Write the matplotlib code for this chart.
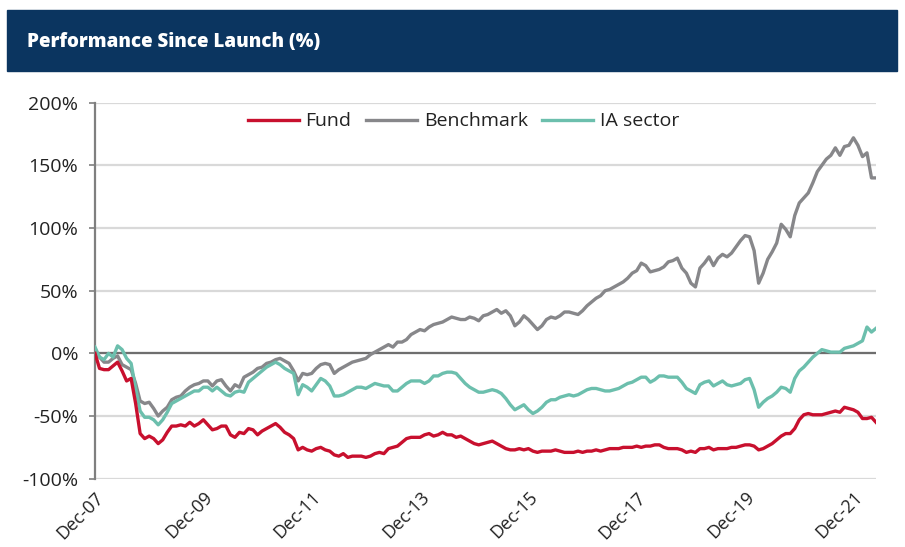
import matplotlib.pyplot as plt
from matplotlib.patches import Rectangle
import numpy as np

plt.rcParams['font.family'] = ['Open Sans', 'DejaVu Sans']

# monthly cumulative performance (%), Dec-07 .. May-22
fund = [0, -12, -13, -13, -10, -7, -14, -22, -20, -40,
        -64, -68, -66, -68, -72, -69, -63, -58, -58, -57,
        -58, -55, -58, -56, -53, -57, -61, -60, -58, -58,
        -65, -67, -63, -64, -60, -61, -65, -62, -60, -58,
        -56, -59, -63, -65, -68, -77, -75, -77, -78, -76,
        -75, -77, -78, -81, -82, -80, -83, -82, -82, -82,
        -83, -82, -80, -79, -80, -76, -75, -74, -71, -68,
        -67, -67, -67, -65, -64, -66, -65, -63, -65, -65,
        -67, -66, -68, -70, -72, -73, -72, -71, -70, -72,
        -74, -76, -77, -77, -76, -77, -76, -78, -79, -78,
        -78, -78, -77, -78, -79, -79, -79, -78, -79, -78,
        -78, -77, -78, -77, -76, -76, -76, -75, -75, -75,
        -74, -75, -74, -74, -73, -73, -75, -76, -76, -76,
        -77, -79, -78, -79, -76, -76, -75, -77, -76, -76,
        -76, -75, -75, -74, -73, -73, -74, -77, -76, -74,
        -72, -69, -66, -64, -64, -60, -53, -49, -48, -49,
        -49, -49, -48, -47, -46, -47, -43, -44, -45, -47,
        -52, -52, -51, -55]

benchmark = [2, -3, -7, -7, -4, -2, -9, -11, -13, -24,
             -38, -40, -39, -44, -50, -46, -43, -37, -35, -34,
             -30, -27, -25, -24, -22, -22, -26, -22, -21, -26,
             -30, -25, -27, -19, -17, -15, -12, -11, -8, -7,
             -5, -4, -6, -8, -14, -22, -16, -17, -16, -12,
             -9, -8, -9, -16, -13, -11, -9, -7, -6, -5,
             -4, -1, 1, 3, 5, 7, 5, 9, 9, 11,
             15, 17, 19, 18, 21, 23, 24, 25, 27, 29,
             28, 27, 27, 29, 28, 26, 30, 31, 33, 35,
             32, 34, 30, 22, 25, 30, 27, 23, 19, 22,
             27, 29, 28, 30, 33, 33, 32, 31, 34, 38,
             41, 44, 46, 50, 51, 53, 55, 57, 60, 64,
             66, 72, 70, 65, 66, 67, 69, 73, 74, 76,
             68, 64, 56, 53, 68, 72, 77, 70, 76, 79,
             77, 80, 85, 90, 94, 93, 82, 56, 64, 75,
             81, 88, 103, 99, 93, 110, 120, 124, 128, 136,
             145, 150, 155, 158, 164, 158, 165, 166, 172, 166,
             157, 160, 140, 140]

ia_sector = [5, -3, -5, 0, -3, 6, 3, -4, -8, -28,
             -46, -51, -51, -53, -57, -53, -47, -40, -38, -36,
             -34, -32, -30, -30, -27, -27, -30, -27, -30, -33,
             -34, -31, -30, -31, -23, -20, -17, -14, -11, -9,
             -7, -9, -12, -14, -16, -33, -25, -27, -30, -25,
             -20, -22, -26, -34, -34, -33, -31, -29, -27, -27,
             -28, -26, -24, -25, -26, -26, -30, -30, -27, -24,
             -22, -22, -22, -24, -22, -18, -18, -16, -15, -15,
             -16, -20, -24, -27, -29, -31, -31, -30, -29, -30,
             -32, -36, -41, -45, -43, -41, -45, -48, -46, -43,
             -39, -37, -37, -35, -34, -33, -34, -33, -31, -29,
             -28, -28, -29, -30, -30, -29, -28, -26, -24, -23,
             -21, -19, -19, -23, -21, -18, -18, -19, -19, -19,
             -23, -28, -30, -32, -25, -23, -22, -26, -24, -22,
             -25, -26, -25, -24, -21, -20, -29, -43, -39, -36,
             -34, -31, -27, -28, -31, -20, -14, -11, -7, -3,
             0, 3, 2, 1, 1, 1, 4, 5, 6, 8,
             10, 21, 17, 20]

tick_labels = ['Dec-07', 'Dec-09', 'Dec-11', 'Dec-13', 'Dec-15',
               'Dec-17', 'Dec-19', 'Dec-21']

x = np.arange(len(fund))

fig = plt.figure(figsize=(9.05, 5.47), dpi=100)

# title banner
fig.patches.append(Rectangle((7/905, 1-71/547), 890/905, 61/547,
                             transform=fig.transFigure, color='#0b3560', zorder=0))
fig.text(27/905, 1-42/547, 'Performance Since Launch (%)', color='white',
         fontsize=13.5, fontweight='heavy', va='center', ha='left')

ax = fig.add_axes([95/905, 1-478.7/547, 781/905, 376/547])

ax.plot(x, fund, color='#c8102e', lw=2.4, label='Fund', zorder=4, solid_joinstyle='round')
ax.plot(x, benchmark, color='#87878a', lw=2.4, label='Benchmark', zorder=3, solid_joinstyle='round')
ax.plot(x, ia_sector, color='#6cbfad', lw=2.4, label='IA sector', zorder=3, solid_joinstyle='round')

ax.axhline(0, color='#6e6e6e', lw=1.6, zorder=2)

ax.set_xlim(0, len(fund) - 1)
ax.set_ylim(-100, 200)
ax.set_yticks(range(-100, 201, 50))
ax.set_yticklabels([f'{v}%' for v in range(-100, 201, 50)])
ax.yaxis.grid(True, color='#d9d9d9', lw=1.6)
ax.set_axisbelow(True)

ax.set_xticks(np.arange(0, len(fund), 24))
ax.set_xticklabels(tick_labels, rotation=45, ha='right', rotation_mode='anchor')

for s in ['top', 'right', 'bottom']:
    ax.spines[s].set_visible(False)
ax.spines['left'].set_color('#7f7f7f')
ax.spines['left'].set_linewidth(1.6)

ax.tick_params(axis='y', length=4, width=1.2, color='#7f7f7f', labelsize=14,
               labelcolor='#222222', pad=8)
ax.tick_params(axis='x', length=0, labelsize=13, labelcolor='#222222', pad=7)

leg = ax.legend(loc='center', bbox_to_anchor=(0.472, 0.95), ncol=3, frameon=False,
                fontsize=14, handlelength=2.6, handletextpad=0.36, columnspacing=0.75)
for t in leg.get_texts():
    t.set_color('#222222')

fig.savefig('out.png', dpi=100)
